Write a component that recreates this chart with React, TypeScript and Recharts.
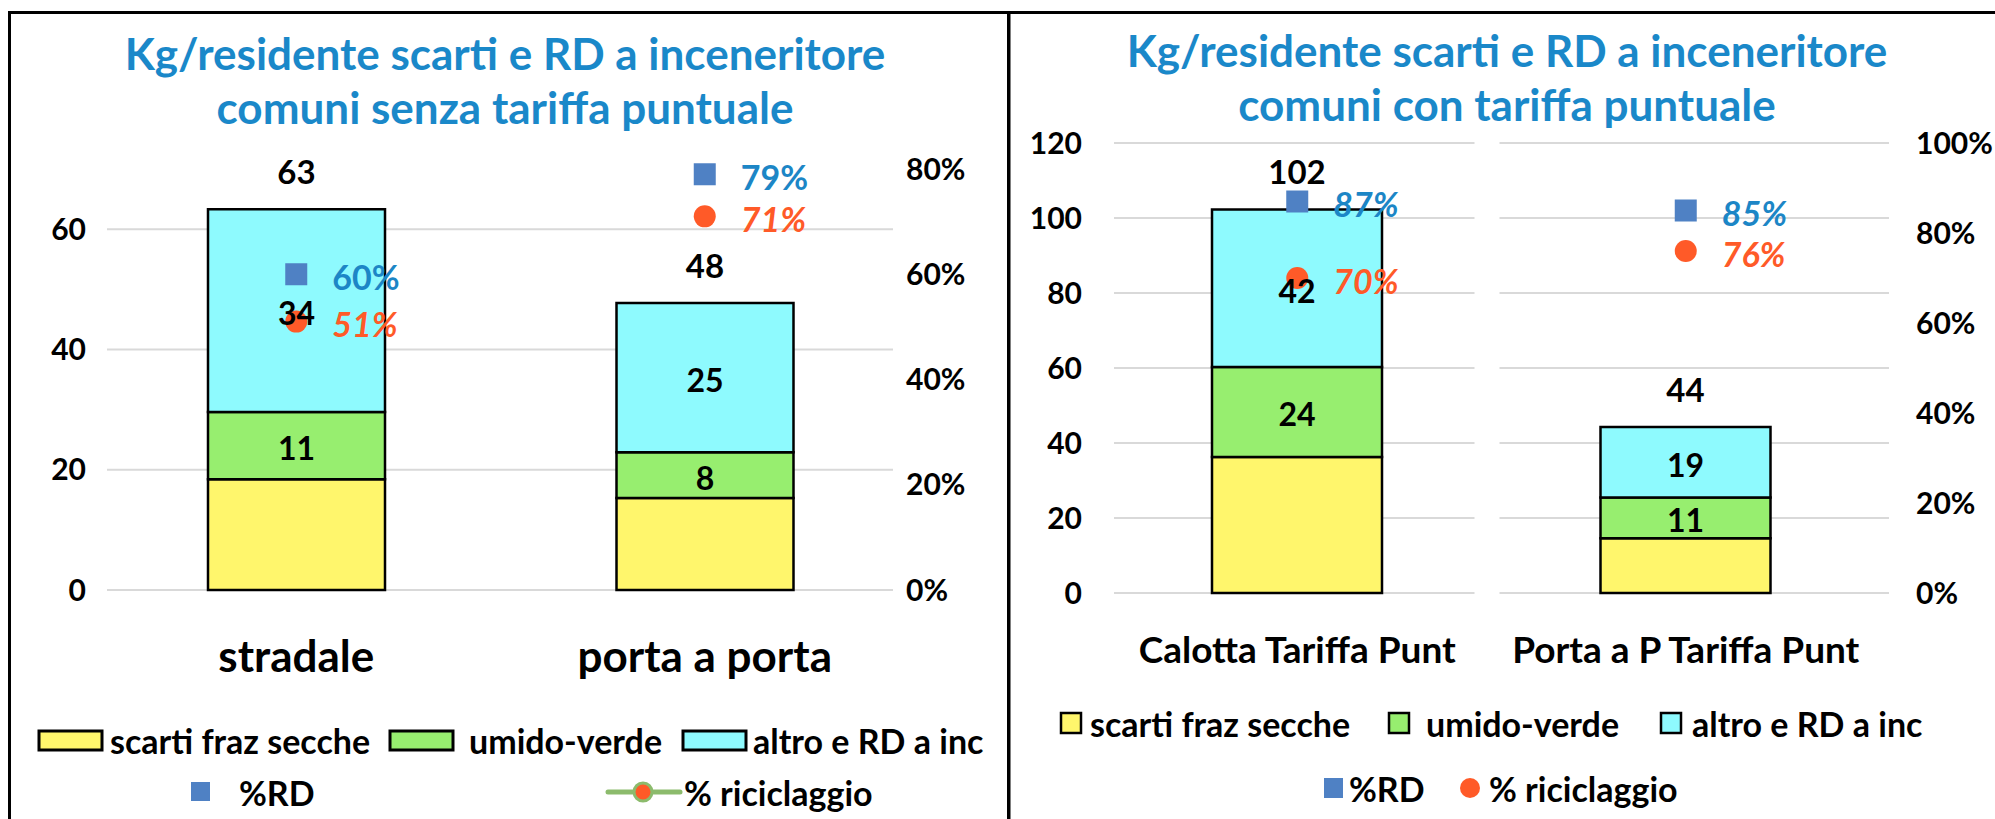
import React from 'react';
import {
  ComposedChart,
  Bar,
  Line,
  XAxis,
  YAxis,
  CartesianGrid,
  LabelList,
} from 'recharts';

const FONT = 'Lato, "Open Sans", sans-serif';

const YELLOW = '#FFF66C';
const GREEN = '#97EE6F';
const CYAN = '#8EFAFE';
const SQUARE_BLUE = '#4F81C4';
const DOT_ORANGE = '#FF5A28';
const TITLE_BLUE = '#1A88C9';
const LABEL_BLUE = '#1C86C6';
const LINE_GREEN = '#8CBB6C';

const seriesNames = ['scarti fraz secche', 'umido-verde', 'altro e RD a inc', '%RD', '% riciclaggio'];

// comuni senza tariffa puntuale
const senzaCategories = ['stradale', 'porta a porta'];
const senzaScarti = [18.4, 15.3];
const senzaUmido = [11.2, 7.6];
const senzaAltro = [33.7, 24.8];
const senzaRD = [0.6, 0.79];
const senzaRiciclaggio = [0.51, 0.71];

// comuni con tariffa puntuale
const conCategories = ['Calotta Tariffa Punt', 'Porta a P Tariffa Punt'];
const conScarti = [36.3, 14.6];
const conUmido = [24, 10.9];
const conAltro = [42, 18.8];
const conRD = [0.87, 0.85];
const conRiciclaggio = [0.7, 0.76];

const senzaKgTicks = [0, 20, 40, 60];
const senzaPctTicks = [0, 0.2, 0.4, 0.6, 0.8];
const conKgTicks = [0, 20, 40, 60, 80, 100, 120];
const conPctTicks = [0, 0.2, 0.4, 0.6, 0.8, 1];

function buildRows(
  categories: string[],
  scarti: number[],
  umido: number[],
  altro: number[],
  rd: number[],
  ric: number[]
) {
  return categories.map((name, i) => ({
    name,
    scarti: scarti[i],
    umido: umido[i],
    altro: altro[i],
    total: scarti[i] + umido[i] + altro[i],
    rd: rd[i],
    ric: ric[i],
  }));
}

const senzaRows = buildRows(senzaCategories, senzaScarti, senzaUmido, senzaAltro, senzaRD, senzaRiciclaggio);
const conRows = buildRows(conCategories, conScarti, conUmido, conAltro, conRD, conRiciclaggio);

// label props differ a bit between series, so read the box defensively
function box(p: any) {
  const vb = p.viewBox || {};
  return {
    x: Number(p.x ?? vb.x ?? 0),
    y: Number(p.y ?? vb.y ?? 0),
    w: Number(p.width ?? vb.width ?? 0),
    h: Number(p.height ?? vb.height ?? 0),
  };
}

const segmentLabel = (props: any) => {
  const b = box(props);
  return (
    <text
      x={b.x + b.w / 2}
      y={b.y + b.h / 2 + 2}
      textAnchor="middle"
      dominantBaseline="central"
      fontFamily={FONT}
      fontSize={32}
      fontWeight={700}
      fill="#000"
    >
      {Math.round(props.value)}
    </text>
  );
};

const totalLabel = (props: any) => {
  const b = box(props);
  return (
    <text
      x={b.x + b.w / 2}
      y={b.y - 38}
      textAnchor="middle"
      dominantBaseline="central"
      fontFamily={FONT}
      fontSize={33}
      fontWeight={700}
      fill="#000"
    >
      {Math.round(props.value)}
    </text>
  );
};

const pctLabel = (color: string, italic: boolean) => (props: any) => {
  const b = box(props);
  return (
    <text
      x={b.x + 36}
      y={b.y + 2}
      dominantBaseline="central"
      fontFamily={FONT}
      fontSize={34}
      fontWeight={700}
      fontStyle={italic ? 'italic' : 'normal'}
      fill={color}
    >
      {Math.round(props.value * 100)}%
    </text>
  );
};

const squareDot = (props: any) => (
  <rect
    key={`sq-${props.index}`}
    x={props.cx - 11}
    y={props.cy - 11}
    width={22}
    height={22}
    fill={SQUARE_BLUE}
  />
);

const circleDot = (props: any) => (
  <circle key={`ci-${props.index}`} cx={props.cx} cy={props.cy} r={11} fill={DOT_ORANGE} />
);

const pctFormat = (v: number) => `${Math.round(v * 100)}%`;

interface PanelProps {
  rows: any[];
  left: number;
  width: number;
  margin: { top: number; right: number; bottom: number; left: number };
  kgDomain: [number, number];
  kgTicks: number[];
  pctDomain: [number, number];
  pctTicks: number[];
  barSize: number;
  kgTickMargin: number;
  pctTickDx: number;
  catFontSize: number;
  catDy: number;
  rdItalic: boolean;
  gridLine: (p: any) => React.ReactElement;
}

function WastePanel(p: PanelProps) {
  const tickStyle = { fill: '#000', fontSize: 30, fontWeight: 700, fontFamily: FONT };
  return (
    <div style={{ position: 'absolute', left: p.left, top: 0 }}>
      <ComposedChart width={p.width} height={819} data={p.rows} margin={p.margin}>
        <CartesianGrid yAxisId="kg" vertical={false} horizontal={p.gridLine} />
        <XAxis
          dataKey="name"
          height={60}
          tickLine={false}
          axisLine={false}
          tickSize={0}
          tickMargin={0}
          interval={0}
          tick={(t: any) => (
            <text
              x={t.x}
              y={t.y + p.catDy}
              textAnchor="middle"
              dominantBaseline="central"
              fontFamily={FONT}
              fontSize={p.catFontSize}
              fontWeight={700}
              fill="#000"
            >
              {t.payload.value}
            </text>
          )}
        />
        <YAxis
          yAxisId="kg"
          width={80}
          domain={p.kgDomain}
          ticks={p.kgTicks}
          tickLine={false}
          axisLine={false}
          tickSize={0}
          tickMargin={p.kgTickMargin}
          tick={tickStyle}
        />
        <YAxis
          yAxisId="pct"
          orientation="right"
          width={80}
          domain={p.pctDomain}
          ticks={p.pctTicks}
          tickFormatter={pctFormat}
          tickLine={false}
          axisLine={false}
          tickSize={0}
          tickMargin={0}
          tick={{ ...tickStyle, dx: p.pctTickDx }}
        />
        <Bar yAxisId="kg" dataKey="scarti" stackId="kg" fill={YELLOW} stroke="#000" strokeWidth={2.5} barSize={p.barSize} isAnimationActive={false} />
        <Bar yAxisId="kg" dataKey="umido" stackId="kg" fill={GREEN} stroke="#000" strokeWidth={2.5} barSize={p.barSize} isAnimationActive={false}>
          <LabelList dataKey="umido" content={segmentLabel} />
        </Bar>
        <Bar yAxisId="kg" dataKey="altro" stackId="kg" fill={CYAN} stroke="#000" strokeWidth={2.5} barSize={p.barSize} isAnimationActive={false}>
          <LabelList dataKey="altro" content={segmentLabel} />
          <LabelList dataKey="total" content={totalLabel} />
        </Bar>
        <Line yAxisId="pct" dataKey="rd" stroke="none" dot={squareDot} activeDot={false} isAnimationActive={false}>
          <LabelList dataKey="rd" content={pctLabel(LABEL_BLUE, p.rdItalic)} />
        </Line>
        <Line yAxisId="pct" dataKey="ric" stroke="none" dot={circleDot} activeDot={false} isAnimationActive={false}>
          <LabelList dataKey="ric" content={pctLabel(DOT_ORANGE, true)} />
        </Line>
      </ComposedChart>
    </div>
  );
}

// gridlines in the reference do not span the whole band range
const senzaGrid = (g: any) => {
  // no line at the top of the plot (axis max 70 has no tick)
  if (g.y1 < 180) return <g key={`g-${g.index}`} />;
  return (
    <line key={`g-${g.index}`} x1={g.x1 + 15} x2={g.x2 - 16} y1={g.y1} y2={g.y2} stroke="#D9D9D9" strokeWidth={2} />
  );
};

const conGrid = (g: any) => {
  const mid = (g.x1 + g.x2) / 2;
  return (
    <g key={`g-${g.index}`}>
      <line x1={g.x1 + 11} x2={mid - 17} y1={g.y1} y2={g.y2} stroke="#D9D9D9" strokeWidth={2} />
      <line x1={mid + 8} x2={g.x2 + 9} y1={g.y1} y2={g.y2} stroke="#D9D9D9" strokeWidth={2} />
    </g>
  );
};

const legendText = { fontFamily: FONT, fontSize: 34, fontWeight: 700, fill: '#000' } as const;

function Overlay() {
  const title = { fontFamily: FONT, fontSize: 44, fontWeight: 700, fill: TITLE_BLUE } as const;
  return (
    <svg width={1995} height={819} style={{ position: 'absolute', left: 0, top: 0 }}>
      <rect x={8} y={11} width={1987} height={3} fill="#000" />
      <rect x={8} y={11} width={3} height={808} fill="#000" />
      <rect x={1007} y={11} width={3.5} height={808} fill="#000" />

      <text x={505} y={53} textAnchor="middle" dominantBaseline="central" {...title}>
        Kg/residente scarti e RD a inceneritore
      </text>
      <text x={505} y={107} textAnchor="middle" dominantBaseline="central" {...title}>
        comuni senza tariffa puntuale
      </text>
      <text x={1507} y={50} textAnchor="middle" dominantBaseline="central" {...title}>
        Kg/residente scarti e RD a inceneritore
      </text>
      <text x={1507} y={104} textAnchor="middle" dominantBaseline="central" {...title}>
        comuni con tariffa puntuale
      </text>

      {/* legend, pannello sinistro */}
      <rect x={39} y={731} width={63} height={19} fill={YELLOW} stroke="#000" strokeWidth={3} />
      <text x={110} y={740} dominantBaseline="central" {...legendText}>{seriesNames[0]}</text>
      <rect x={390} y={731} width={63} height={19} fill={GREEN} stroke="#000" strokeWidth={3} />
      <text x={469} y={740} dominantBaseline="central" {...legendText}>{seriesNames[1]}</text>
      <rect x={683} y={731} width={63} height={19} fill={CYAN} stroke="#000" strokeWidth={3} />
      <text x={753} y={740} dominantBaseline="central" {...legendText}>{seriesNames[2]}</text>
      <rect x={191} y={782} width={19} height={19} fill={SQUARE_BLUE} />
      <text x={239} y={792} dominantBaseline="central" {...legendText}>{seriesNames[3]}</text>
      <line x1={608} x2={680} y1={792} y2={792} stroke={LINE_GREEN} strokeWidth={5} strokeLinecap="round" />
      <circle cx={643} cy={792} r={9} fill={DOT_ORANGE} stroke={LINE_GREEN} strokeWidth={3} />
      <text x={684} y={792} dominantBaseline="central" {...legendText}>{seriesNames[4]}</text>

      {/* legend, pannello destro */}
      <rect x={1061} y={713} width={20} height={20} fill={YELLOW} stroke="#000" strokeWidth={2.5} />
      <text x={1090} y={723} dominantBaseline="central" {...legendText}>{seriesNames[0]}</text>
      <rect x={1389} y={713} width={20} height={20} fill={GREEN} stroke="#000" strokeWidth={2.5} />
      <text x={1426} y={723} dominantBaseline="central" {...legendText}>{seriesNames[1]}</text>
      <rect x={1661} y={713} width={20} height={20} fill={CYAN} stroke="#000" strokeWidth={2.5} />
      <text x={1692} y={723} dominantBaseline="central" {...legendText}>{seriesNames[2]}</text>
      <rect x={1324} y={778} width={19} height={20} fill={SQUARE_BLUE} />
      <text x={1349} y={788} dominantBaseline="central" {...legendText}>{seriesNames[3]}</text>
      <circle cx={1470} cy={788} r={10} fill={DOT_ORANGE} />
      <text x={1489} y={788} dominantBaseline="central" {...legendText}>{seriesNames[4]}</text>
    </svg>
  );
}

export default function App() {
  return (
    <div
      style={{
        position: 'absolute',
        left: 0,
        top: 0,
        width: 1995,
        height: 819,
        background: '#fff',
        overflow: 'hidden',
      }}
    >
      <Overlay />
      <WastePanel
        rows={senzaRows}
        left={0}
        width={1008}
        margin={{ top: 169, right: 19, bottom: 169, left: 12 }}
        kgDomain={[0, 70]}
        kgTicks={senzaKgTicks}
        pctDomain={[0, 0.8]}
        pctTicks={senzaPctTicks}
        barSize={177}
        kgTickMargin={6}
        pctTickDx={-3}
        catFontSize={44}
        catDy={65}
        rdItalic={false}
        gridLine={senzaGrid}
      />
      <WastePanel
        rows={conRows}
        left={1008}
        width={987}
        margin={{ top: 143, right: 35, bottom: 166, left: 15 }}
        kgDomain={[0, 120]}
        kgTicks={conKgTicks}
        pctDomain={[0, 1]}
        pctTicks={conPctTicks}
        barSize={170}
        kgTickMargin={21}
        pctTickDx={36}
        catFontSize={37}
        catDy={55}
        rdItalic={true}
        gridLine={conGrid}
      />
    </div>
  );
}
